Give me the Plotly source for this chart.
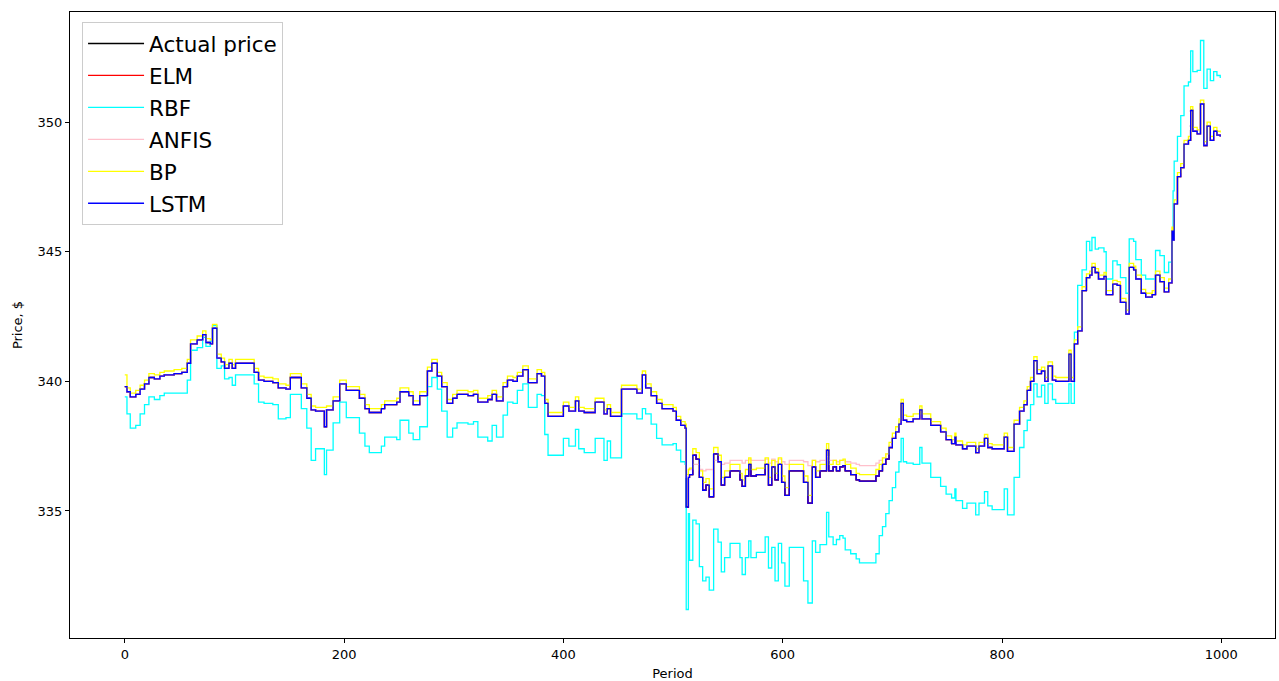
import plotly.graph_objects as go

# Period breakpoints (the series move in steps; value holds until next breakpoint)
period = [0,2,5,10,14,18,22,27,32,36,45,52,57,60,66,71,74,78,80,84,88,91,95,98,101,118,122,127,135,140,
          147,151,161,166,170,174,182,184,190,196,202,214,219,223,234,237,248,251,259,263,269,276,280,285,289,
          294,299,303,313,318,322,331,335,339,345,349,354,358,363,368,376,380,383,386,400,405,411,414,419,429,
          437,440,443,453,467,472,475,480,485,490,500,503,507,511,512,514,515,518,521,524,527,530,533,537,541,
          544,547,552,561,563,566,569,571,576,584,587,590,593,596,599,602,606,619,623,627,630,634,640,642,646,
          649,652,655,657,662,667,670,685,688,691,694,697,700,703,706,708,710,713,719,725,727,735,744,749,754,
          757,758,764,768,776,779,784,787,791,802,805,811,816,820,823,826,829,832,836,839,842,846,849,861,863,
          866,869,873,877,880,882,885,888,893,895,901,905,908,913,916,920,922,927,931,937,940,944,948,952,955,
          956,957,960,963,966,970,972,974,978,981,984,987,990,993,996,999]

actual_price = [339.8,339.6,339.4,339.5,339.7,339.9,340.15,340.1,340.2,340.25,340.3,340.35,340.7,341.45,341.6,
    341.8,341.5,341.45,342.05,340.9,340.75,340.5,340.7,340.5,340.7,340.35,340.05,340.0,339.95,339.75,
    339.7,340.15,339.75,339.35,338.9,338.85,338.25,338.9,339.25,339.9,339.65,339.35,338.95,338.8,338.95,
    339.1,339.2,339.6,339.45,339.1,339.45,340.4,340.7,340.2,339.8,339.15,339.35,339.5,339.45,339.5,
    339.2,339.3,339.5,339.25,339.8,340.05,340.0,340.2,340.45,339.95,340.3,340.2,339.15,338.65,339.05,
    338.85,339.25,338.85,338.8,339.2,338.75,338.95,338.65,339.7,339.55,340.25,339.75,339.45,339.15,338.95,
    338.85,338.5,338.3,338.2,335.15,336.3,336.4,337.15,337.0,336.3,335.8,336.0,335.55,337.2,336.9,
    336.0,336.3,336.55,336.2,335.95,336.35,336.8,336.35,336.4,336.8,336.0,336.7,336.2,336.8,336.1,
    335.6,336.55,336.1,335.3,336.7,336.3,336.55,337.35,336.55,336.7,336.55,336.7,336.75,336.55,336.4,
    336.2,336.15,336.35,336.55,336.8,337.0,337.45,337.8,338.05,338.35,339.15,338.5,338.45,338.55,338.9,
    338.55,338.3,338.05,337.75,337.6,337.85,337.55,337.4,337.5,337.25,337.5,337.8,337.45,337.4,337.85,
    337.3,338.35,338.85,339.1,339.65,340.0,340.8,340.3,340.4,340.0,340.6,340.05,340.0,341.05,340.0,
    341.45,341.95,343.5,344.0,344.1,344.4,344.2,343.95,344.05,343.35,343.75,343.7,343.05,342.6,344.4,
    344.3,343.95,343.4,343.25,343.35,344.1,343.85,343.45,343.8,345.8,345.45,346.85,347.9,348.25,349.15,
    349.3,350.45,349.65,349.55,350.7,349.1,349.85,349.3,349.65,349.5,349.45]

# ELM and LSTM lie on the actual price everywhere at the picture's resolution
elm_price = actual_price
lstm_price = actual_price

rbf_price = [339.4,338.75,338.2,338.3,338.75,339.1,339.4,339.3,339.45,339.55,339.55,339.55,340.05,341.2,341.3,
    341.7,341.35,341.55,342.15,340.5,340.6,340.1,340.15,339.85,340.25,339.9,339.2,339.15,339.1,338.55,
    338.6,339.5,338.95,338.2,336.95,337.4,336.4,337.35,338.4,339.2,338.6,338.0,337.5,337.25,337.5,
    337.85,337.75,338.5,338.0,337.75,338.25,339.8,340.15,339.7,338.85,337.85,338.2,338.4,338.35,338.45,
    337.85,337.7,338.3,337.85,338.7,339.2,339.15,339.65,339.9,339.0,339.5,339.45,337.95,337.15,337.8,
    337.5,338.15,337.4,337.25,337.8,336.95,337.7,337.05,338.75,338.55,338.95,338.75,338.35,337.8,337.55,
    337.6,337.35,336.9,336.8,331.2,334.9,333.1,334.65,334.5,332.85,332.3,332.45,331.95,334.3,333.8,
    332.65,333.2,333.75,333.2,332.55,333.2,333.85,333.2,333.4,334.0,332.8,333.6,332.3,333.75,333.0,
    332.1,333.6,332.3,331.45,333.85,333.4,333.7,334.95,334.0,333.7,333.9,334.05,333.95,333.5,333.35,
    333.15,333.0,333.35,334.05,334.4,334.9,335.4,335.9,336.5,336.9,337.8,336.9,336.85,336.8,337.45,
    336.85,336.3,335.95,335.65,335.5,335.85,335.4,335.1,335.3,334.85,335.3,335.75,335.2,335.05,335.85,
    334.85,336.3,337.45,338.1,338.5,339.1,339.9,339.4,339.85,339.15,339.9,339.3,339.15,339.9,339.15,
    341.9,343.7,344.3,345.4,345.05,345.55,345.1,345.15,345.0,343.95,344.65,344.5,344.0,343.4,345.5,
    345.4,344.7,344.1,343.95,343.95,345.05,344.85,344.2,344.6,345.55,347.35,348.5,349.45,350.25,351.4,
    351.55,352.75,351.95,352.0,353.15,351.3,352.05,351.6,351.95,351.8,351.7]

anfis_price = [339.8,339.6,339.4,339.5,339.7,339.9,340.15,340.1,340.2,340.25,340.3,340.35,340.7,341.45,341.6,
    341.8,341.5,341.45,342.05,340.9,340.75,340.5,340.7,340.5,340.7,340.35,340.05,340.0,339.95,339.75,
    339.7,340.15,339.75,339.35,338.9,338.85,338.25,338.9,339.25,339.9,339.65,339.35,338.95,338.8,338.95,
    339.1,339.2,339.6,339.45,339.1,339.45,340.4,340.7,340.2,339.8,339.15,339.35,339.5,339.45,339.5,
    339.2,339.3,339.5,339.25,339.8,340.05,340.0,340.2,340.45,339.95,340.3,340.2,339.15,338.65,339.05,
    338.85,339.25,338.85,338.8,339.2,338.75,338.95,338.65,339.7,339.55,340.25,339.75,339.45,339.15,338.95,
    338.85,338.5,338.3,338.2,336.3,336.6,336.6,336.8,336.8,336.6,336.55,336.6,336.6,336.95,336.9,
    336.8,336.85,336.95,336.95,336.85,336.95,337.0,336.95,336.95,337.0,336.85,337.0,336.9,337.0,336.9,
    336.8,336.95,336.9,336.75,336.95,336.9,336.95,337.1,336.95,336.95,336.9,336.95,336.95,336.9,336.85,
    336.8,336.75,336.85,336.95,337.05,337.2,337.5,337.85,338.05,338.35,339.15,338.5,338.45,338.55,338.9,
    338.55,338.3,338.05,337.75,337.6,337.85,337.55,337.4,337.5,337.25,337.5,337.8,337.45,337.4,337.85,
    337.3,338.35,338.85,339.1,339.65,340.0,340.8,340.3,340.4,340.0,340.6,340.05,340.0,341.05,340.0,
    341.45,341.95,343.5,344.0,344.1,344.4,344.2,343.95,344.05,343.35,343.75,343.7,343.05,342.6,344.4,
    344.3,343.95,343.4,343.25,343.35,344.1,343.85,343.45,343.8,345.8,345.45,346.85,347.9,348.25,349.15,
    349.3,350.45,349.65,349.55,350.7,349.1,349.85,349.3,349.65,349.5,349.45]

bp_price = [340.25,339.75,339.55,339.65,339.85,340.05,340.3,340.25,340.35,340.4,340.45,340.5,340.85,341.6,341.75,
    341.95,341.65,341.6,342.2,341.05,340.9,340.65,340.85,340.65,340.85,340.5,340.2,340.15,340.1,339.9,
    339.85,340.3,339.9,339.5,339.05,339.0,339.0,339.05,339.4,340.05,339.8,339.5,339.1,338.95,339.1,
    339.25,339.35,339.75,339.6,339.25,339.6,340.55,340.85,340.35,339.95,339.3,339.5,339.65,339.6,339.65,
    339.35,339.45,339.65,339.4,339.95,340.2,340.15,340.35,340.6,340.1,340.45,340.35,339.3,338.8,339.2,
    339.0,339.4,339.0,338.95,339.35,338.9,339.1,338.8,339.85,339.7,340.4,339.9,339.6,339.3,339.1,
    339.0,338.65,338.45,338.35,336.4,336.6,336.65,337.4,337.25,336.55,336.1,336.25,335.85,337.45,337.15,
    336.3,336.55,336.8,336.45,336.2,336.6,337.05,336.6,336.65,337.05,336.3,336.95,336.45,337.05,336.35,
    335.9,336.8,336.35,335.6,336.95,336.55,336.8,337.6,336.8,336.95,336.8,336.95,337.0,336.8,336.65,
    336.45,336.4,336.6,336.8,337.05,337.2,337.65,338.0,338.25,338.55,339.3,338.7,338.65,338.75,339.05,
    338.75,338.45,338.2,337.9,337.75,338.0,337.7,337.55,337.65,337.4,337.65,337.95,337.6,337.55,338.0,
    337.45,338.5,339.0,339.25,339.8,340.15,340.95,340.45,340.55,340.15,340.75,340.2,340.15,341.2,340.15,
    341.6,342.1,343.65,344.15,344.25,344.55,344.35,344.1,344.2,343.5,343.9,343.85,343.2,342.75,344.55,
    344.45,344.1,343.55,343.4,343.5,344.25,344.0,343.6,343.95,345.95,345.6,347.0,348.05,348.4,349.3,
    349.45,350.6,349.8,349.7,350.85,349.25,350.0,349.45,349.8,349.65,349.6]

series = [
    ("Actual price", actual_price, "#000000"),
    ("ELM", elm_price, "#ff0000"),
    ("RBF", rbf_price, "#00ffff"),
    ("ANFIS", anfis_price, "#ffc0cb"),
    ("BP", bp_price, "#ffff00"),
    ("LSTM", lstm_price, "#0000ff"),
]

FONT = "DejaVu Sans"
fig = go.Figure()
for name, vals, color in series:
    fig.add_trace(go.Scatter(
        x=period, y=vals, name=name, mode="lines",
        line=dict(color=color, width=1.3, shape="hv"),
        legendgroup=name,
    ))

axis_common = dict(
    showline=True, mirror=True, linecolor="#000000", linewidth=1,
    ticks="outside", ticklen=4, tickwidth=1, tickcolor="#000000",
    showgrid=False, zeroline=False,
    tickfont=dict(family=FONT, size=13, color="#000000"),
)

fig.update_layout(
    width=1279, height=681,
    margin=dict(l=70, r=4, t=12, b=43),
    paper_bgcolor="white", plot_bgcolor="white",
    font=dict(family=FONT, color="#000000"),
    showlegend=True,
    legend=dict(
        x=0.01, y=0.984, xanchor="left", yanchor="top",
        font=dict(family=FONT, size=21.5, color="#000000"),
        bgcolor="rgba(255,255,255,0.8)", bordercolor="#cccccc", borderwidth=1,
        tracegroupgap=1, itemwidth=56,
    ),
    xaxis=dict(range=[-49.95, 1048.95], tickvals=[0, 200, 400, 600, 800, 1000],
               title=dict(text="Period", font=dict(family=FONT, size=13), standoff=10),
               automargin=False, **axis_common),
    yaxis=dict(range=[330.1, 354.25], tickvals=[335, 340, 345, 350],
               title=dict(text="Price, $", font=dict(family=FONT, size=13), standoff=12),
               automargin=False, **axis_common),
)

fig.write_html("out.html")
